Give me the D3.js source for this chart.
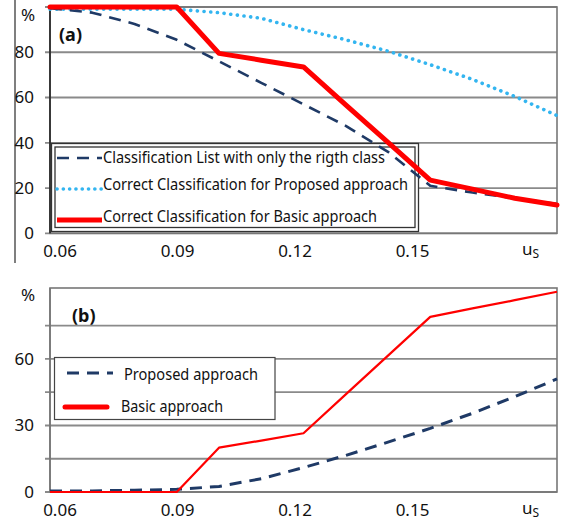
<!DOCTYPE html>
<html>
<head>
<meta charset="utf-8">
<script src="https://cdn.jsdelivr.net/npm/d3@7"></script>
<style>
  html, body { margin: 0; padding: 0; background: #fff; }
  svg { display: block; font-family: "Noto Sans", "Open Sans", sans-serif; }
</style>
</head>
<body>
<svg id="chart" width="568" height="524"></svg>
<script>
// sample points along u_S
const uS = [0.06, 0.07, 0.08, 0.09, 0.10, 0.11, 0.12, 0.13, 0.14, 0.15, 0.16, 0.17, 0.18];

// panel (a): percentages
const listRightClassA  = [99.5, 97.5, 92.5, 85.5, 76, 66.5, 57, 47.5, 36, 21, 18, 15.5, 13];
const proposedCorrectA = [99, 99, 99, 99, 97.5, 95, 90, 85.5, 80.5, 74.5, 68, 60.5, 52];
const basicCorrectA    = [100, 100, 100, 100, 79.5, 76.5, 73.5, 56.8, 40.2, 23.5, 19.5, 15.5, 12.5];

// panel (b): percentages
const proposedB = [0.5, 0.5, 0.8, 1.2, 2.5, 6, 11, 16.5, 22.5, 28.7, 35.5, 43, 51];
const basicB    = [0, 0, 0, 0, 20, 23.2, 26.5, 44, 61.5, 79, 82.8, 86.5, 90.3];

// axis labels
const xTickLabels = ["0.06", "0.09", "0.12", "0.15"];
const gridA = [0, 20, 40, 60, 80, 100];
const yLabelsA = [0, 20, 40, 60, 80];
const gridB = [0, 15, 30, 45, 60, 75];
const yLabelsB = [0, 30, 60];

// legend entries
const legendA = [
  "Classification List with only the rigth class",
  "Correct Classification for Proposed approach",
  "Correct Classification for Basic approach"
];
const legendB = ["Proposed approach", "Basic approach"];

const svg = d3.select("#chart");
const navy = "#1f3a66", cyan = "#33b5f0", red = "#ff0000", grid = "#8a8a8a";

// separator line at far left
svg.append("line").attr("x1", 15).attr("x2", 15).attr("y1", 0).attr("y2", 263)
  .attr("stroke", "#555").attr("stroke-width", 1.5);

function panel(cfg) {
  const x = d3.scaleLinear().domain(d3.extent(uS)).range([50, 557]);
  const y = d3.scaleLinear().domain(cfg.yDomain).range([cfg.bottom, cfg.top]);
  const g = svg.append("g");

  // gridlines + tick stubs
  g.selectAll(".grid").data(cfg.grid).join("line")
    .attr("x1", 45).attr("x2", 557)
    .attr("y1", d => y(d)).attr("y2", d => y(d))
    .attr("stroke", grid).attr("stroke-width", 1.8);

  // plot frame
  g.append("rect").attr("x", 50).attr("y", cfg.top).attr("width", 507)
    .attr("height", cfg.bottom - cfg.top)
    .attr("fill", "none").attr("stroke", "#777").attr("stroke-width", 1.6);
  g.append("line").attr("x1", 50).attr("x2", 50).attr("y1", cfg.top).attr("y2", cfg.bottom)
    .attr("stroke", cfg.axisColor).attr("stroke-width", 1.6);

  // y labels
  g.selectAll(".yl").data(cfg.yLabels).join("text")
    .attr("x", 34).attr("y", d => y(d)).attr("dy", "0.35em")
    .attr("text-anchor", "end").attr("font-size", 17).attr("fill", "#111")
    .text(d => d);
  g.append("text").attr("x", 28).attr("y", cfg.pctY).attr("dy", "0.35em")
    .attr("text-anchor", "middle").attr("font-size", 17).attr("fill", "#111").text("%");

  // panel tag
  g.append("text").attr("x", cfg.tagX).attr("y", cfg.tagY)
    .attr("font-size", 18).attr("font-weight", "bold").attr("fill", "#111").text(cfg.tag);

  // x labels
  const xl = d3.scalePoint().domain([...xTickLabels, "u"]).range([60, 530]);
  g.selectAll(".xl").data(xTickLabels).join("text")
    .attr("x", d => xl(d)).attr("y", cfg.labelY)
    .attr("text-anchor", "middle").attr("font-size", 17).attr("fill", "#111").text(d => d);
  const ut = g.append("text").attr("x", xl("u") - 8).attr("y", cfg.labelY - 2)
    .attr("font-size", 17).attr("fill", "#111");
  ut.append("tspan").text("u");
  ut.append("tspan").attr("dy", 3).attr("font-size", 12).text("S");

  // legend box
  cfg.legendBox(g);

  // series
  const line = d3.line().x((d, i) => x(uS[i])).y(d => y(d)).curve(d3.curveLinear);
  cfg.series.forEach(s => {
    g.append("path").datum(s.values).attr("d", line)
      .attr("fill", "none").attr("stroke", s.color).attr("stroke-width", s.width)
      .attr("stroke-dasharray", s.dash || null)
      .attr("stroke-linecap", s.cap || "butt").attr("stroke-linejoin", "round");
  });

  // legend entries
  cfg.legendItems(g);
}

// ---------- panel (a) ----------
panel({
  yDomain: [0, 100], top: 7, bottom: 233.3, grid: gridA, yLabels: yLabelsA,
  axisColor: "#222", pctY: 15, tag: "(a)", tagX: 59, tagY: 41, labelY: 257,
  legendBox: g => {
    g.append("rect").attr("x", 51.5).attr("y", 143.5).attr("width", 367).attr("height", 88)
      .attr("fill", "#fff").attr("stroke", "#333").attr("stroke-width", 1.3);
    g.append("rect").attr("x", 55).attr("y", 147).attr("width", 360).attr("height", 80.5)
      .attr("fill", "none").attr("stroke", "#333").attr("stroke-width", 1.3);
  },
  series: [
    { values: proposedCorrectA, color: cyan, width: 3.6, dash: "0.1 6.6", cap: "round" },
    { values: listRightClassA, color: navy, width: 2.6, dash: "12 8" },
    { values: basicCorrectA, color: red, width: 5, cap: "round" }
  ],
  legendItems: g => {
    const rows = [
      { y: 158, base: 162.5, color: navy, width: 2.6, dash: "12 8", cap: "butt", len: 282 },
      { y: 189, base: 190, color: cyan, width: 3.6, dash: "0.1 6.2", cap: "round", len: 305 },
      { y: 220, base: 221.5, color: red, width: 5, dash: null, cap: "butt", len: 274 }
    ];
    rows.forEach((r, i) => {
      g.append("line").attr("x1", 57).attr("x2", 102).attr("y1", r.y).attr("y2", r.y)
        .attr("stroke", r.color).attr("stroke-width", r.width)
        .attr("stroke-dasharray", r.dash).attr("stroke-linecap", r.cap);
      g.append("text").attr("x", 103).attr("y", r.base).attr("font-size", 16)
        .attr("fill", "#111").attr("textLength", r.len).attr("lengthAdjust", "spacingAndGlyphs")
        .text(legendA[i]);
    });
  }
});

// ---------- panel (b) ----------
panel({
  yDomain: [0, 92], top: 288, bottom: 492, grid: gridB, yLabels: yLabelsB,
  axisColor: "#777", pctY: 295, tag: "(b)", tagX: 72, tagY: 322, labelY: 516,
  legendBox: g => {
    g.append("rect").attr("x", 54.5).attr("y", 357.5).attr("width", 220.5).attr("height", 62)
      .attr("fill", "#fff").attr("stroke", "#444").attr("stroke-width", 1.2);
  },
  series: [
    { values: proposedB, color: navy, width: 3, dash: "12 8" },
    { values: basicB, color: red, width: 2.2 }
  ],
  legendItems: g => {
    g.append("line").attr("x1", 67).attr("x2", 113).attr("y1", 373).attr("y2", 373)
      .attr("stroke", navy).attr("stroke-width", 3).attr("stroke-dasharray", "12 8");
    g.append("line").attr("x1", 65).attr("x2", 107).attr("y1", 407).attr("y2", 407)
      .attr("stroke", red).attr("stroke-width", 5).attr("stroke-linecap", "round");
    g.append("text").attr("x", 124).attr("y", 379.5).attr("font-size", 16).attr("fill", "#111")
      .attr("textLength", 134).attr("lengthAdjust", "spacingAndGlyphs").text(legendB[0]);
    g.append("text").attr("x", 121).attr("y", 412).attr("font-size", 16).attr("fill", "#111")
      .attr("textLength", 102).attr("lengthAdjust", "spacingAndGlyphs").text(legendB[1]);
  }
});
</script>
</body>
</html>
